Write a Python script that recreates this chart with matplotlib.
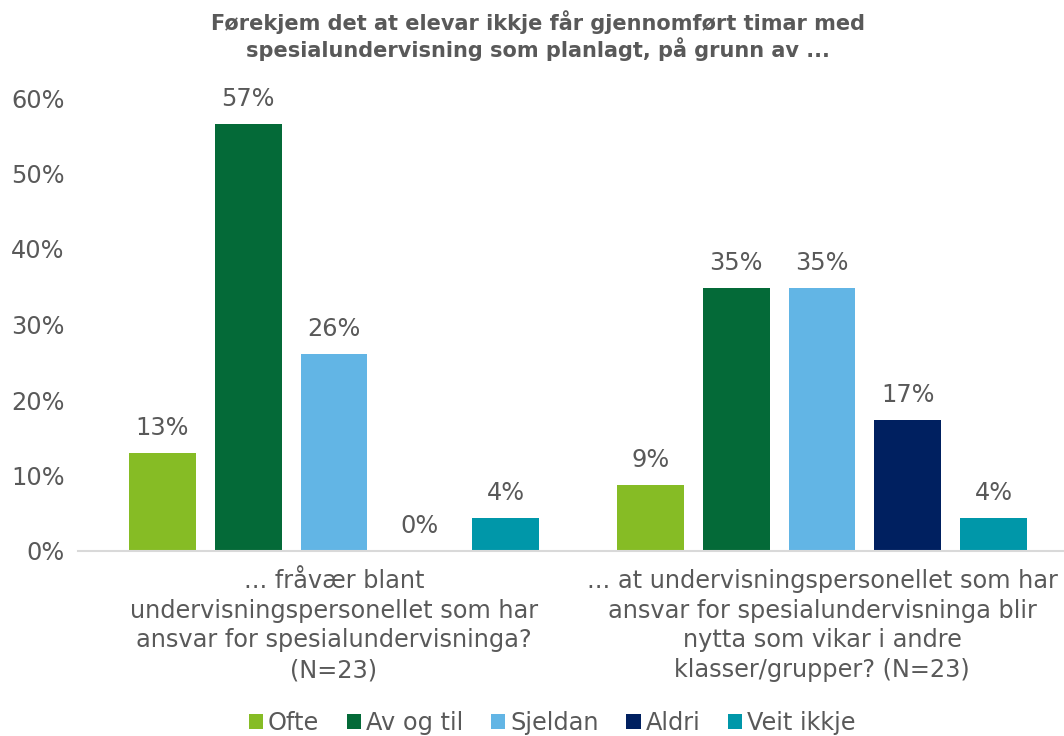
import matplotlib
matplotlib.use("Agg")
import matplotlib.pyplot as plt
import numpy as np

title = "Førekjem det at elevar ikkje får gjennomført timar med\nspesialundervisning som planlagt, på grunn av ..."
categories = [
    "... fråvær blant\nundervisningspersonellet som har\nansvar for spesialundervisninga?\n(N=23)",
    "... at undervisningspersonellet som har\nansvar for spesialundervisninga blir\nnytta som vikar i andre\nklasser/grupper? (N=23)",
]
series = ["Ofte", "Av og til", "Sjeldan", "Aldri", "Veit ikkje"]
values = {
    "Ofte": [13.04, 8.70],
    "Av og til": [56.52, 34.78],
    "Sjeldan": [26.09, 34.78],
    "Aldri": [0.0, 17.39],
    "Veit ikkje": [4.35, 4.35],
}
colors = ["#86BC25", "#046A38", "#62B5E5", "#002060", "#0097A9"]
yticks = [0, 10, 20, 30, 40, 50, 60]

plt.rcParams['font.family'] = ['DejaVu Sans']
txt = "#595959"
fs = 17.3

fig = plt.figure(figsize=(10.64, 7.36), dpi=100)
ax = fig.add_axes([78/1064, 185/736, 986/1064, 453/736])

x = np.arange(len(categories))
pitch = 0.176
width = 0.137
for i, s in enumerate(series):
    pos = x + (i - 2) * pitch
    bars = ax.bar(pos, values[s], width, color=colors[i], label=s, zorder=2)
    for b, v in zip(bars, values[s]):
        ax.annotate(f"{v:.0f}%", (b.get_x() + b.get_width()/2, b.get_height()),
                    xytext=(0, 18), textcoords="offset points",
                    ha="center", va="center", fontsize=fs, color=txt,
                    annotation_clip=False)

ax.set_xlim(-256/488, 730/488)
ax.set_ylim(0, 60)
ax.set_yticks(yticks)
ax.set_yticklabels([f"{t}%" for t in yticks], fontsize=fs, color=txt)
ax.set_xticks(x)
ax.set_xticklabels(categories, fontsize=fs, color=txt, linespacing=1.3)
ax.tick_params(axis="both", length=0)
ax.tick_params(axis="y", pad=9.5)
ax.tick_params(axis="x", pad=13)
for sp in ["top", "right", "left"]:
    ax.spines[sp].set_visible(False)
ax.spines["bottom"].set_color("#D9D9D9")
ax.spines["bottom"].set_linewidth(1.5)

fig.text(538/1064, 1 - 36/736, title, ha="center", va="center", fontsize=15,
         fontweight="bold", color=txt, linespacing=1.16)

leg = fig.legend(loc="center", bbox_to_anchor=(552/1064, 1 - 723/736), ncol=5,
                 frameon=False, fontsize=fs, handlelength=0.6, handleheight=0.6,
                 handletextpad=0.2, columnspacing=1.15)
for t in leg.get_texts():
    t.set_color(txt)

fig.savefig("out.png", dpi=100)
